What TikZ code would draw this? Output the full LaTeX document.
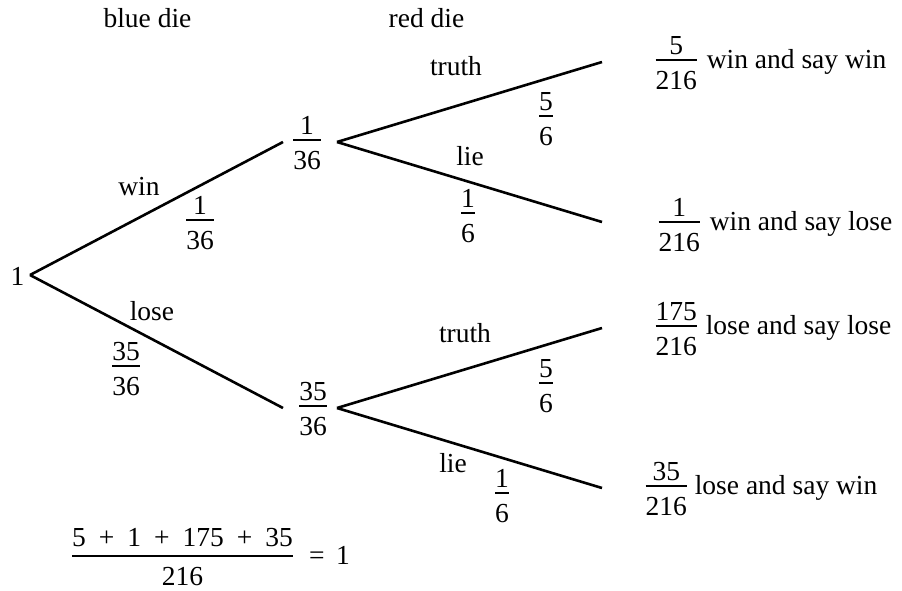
\documentclass[tikz,border=0pt]{standalone}
\usepackage{fontspec}
\setmainfont{Liberation Serif}
\newcommand\fr[2]{{\renewcommand\arraystretch{0}\setlength\arrayrulewidth{2.7pt}\begin{tabular}{@{}c@{}}\rule[-4pt]{0pt}{24.7pt}#1\\\hline\rule{0pt}{28.7pt}#2\end{tabular}}}
\newcommand\gap{\hspace{13pt}}
\begin{document}
\begin{tikzpicture}[x=1pt,y=-1pt,font=\fontsize{27.5}{33}\selectfont,
  branch/.style={line width=2.6pt},
  lbl/.style={inner sep=0pt,anchor=base},
  frac/.style={inner sep=0pt,anchor=center},
  outcome/.style={inner sep=0pt,anchor=west}]
\path[use as bounding box] (0,0) rectangle (902,590);
% headings
\node[lbl] (blue) at (147.5,27) {blue die};
\node[lbl] (red) at (426.5,27) {red die};
% joints
\node[lbl] (rootlbl) at (17.5,285) {1};
\coordinate (r) at (30,275);
\node[frac] (n1) at (307,142) {\fr{1}{36}};
\node[frac] (n2) at (313,408) {\fr{35}{36}};
\coordinate (n1in) at (283,142);
\coordinate (n1out) at (337,142);
\coordinate (n2in) at (283,408);
\coordinate (n2out) at (337,408);
\coordinate (e1) at (602,62);
\coordinate (e2) at (602,222);
\coordinate (e3) at (602,328);
\coordinate (e4) at (602,488);
% branches
\draw[branch] (r) -- (n1in);
\draw[branch] (r) -- (n2in);
\draw[branch] (n1out) -- (e1);
\draw[branch] (n1out) -- (e2);
\draw[branch] (n2out) -- (e3);
\draw[branch] (n2out) -- (e4);
% branch labels
\node[lbl] (win) at (139,195) {win};
\node[frac] (pwin) at (200,222) {\fr{1}{36}};
\node[lbl] (lose) at (152,320) {lose};
\node[frac] (plose) at (126,368) {\fr{35}{36}};
\node[lbl] (truth1) at (456,75) {truth};
\node[frac] (pt1) at (546,118) {\fr{5}{6}};
\node[lbl] (lie1) at (470,165) {lie};
\node[frac] (pl1) at (468,215) {\fr{1}{6}};
\node[lbl] (truth2) at (465,342) {truth};
\node[frac] (pt2) at (546,385) {\fr{5}{6}};
\node[lbl] (lie2) at (453,472) {lie};
\node[frac] (pl2) at (502,495) {\fr{1}{6}};
% outcomes
\node[outcome] (o1) at (655.5,62) {\fr{5}{216}\hspace{3pt} win and say win};
\node[outcome] (o2) at (658.5,224) {\fr{1}{216}\hspace{3pt} win and say lose};
\node[outcome] (o3) at (655.5,328) {\fr{175}{216}\hspace{2pt} lose and say lose};
\node[outcome] (o4) at (645.5,488) {\fr{35}{216}\hspace{1pt} lose and say win};
% sum
\node[lbl] (sumnum) at (182.5,546) {5\gap+\gap1\gap+\gap175\gap+\gap35};
\coordinate (barL) at (72,556);
\coordinate (barR) at (293,556);
\draw[line width=2.7pt] (barL) -- (barR);
\node[lbl] (sumden) at (182.5,585.5) {216};
\node[lbl] (eq) at (317,564) {=};
\node[lbl] (one) at (343,564) {1};
\end{tikzpicture}
\end{document}
